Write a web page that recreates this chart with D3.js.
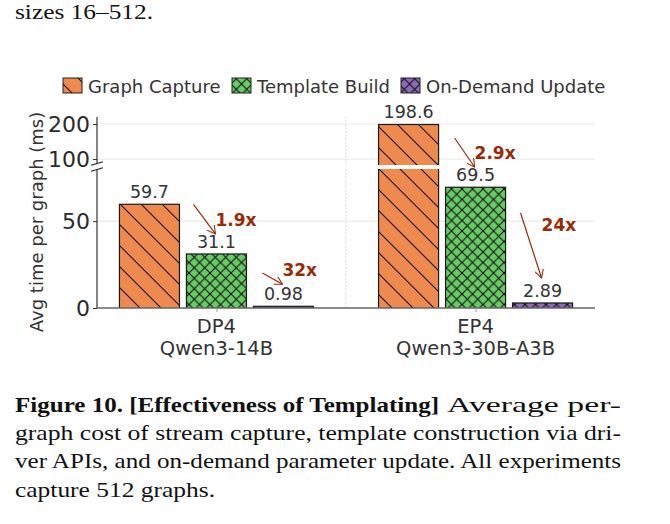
<!DOCTYPE html>
<meta charset="utf-8">
<title>Effectiveness of Templating</title>
<script src="https://cdn.jsdelivr.net/npm/d3@7"></script>
<style>
  body { margin: 0; background: #fff; }
  svg { display: block; }
</style>
<body>
<div id="my_dataviz"></div>
<script>
// data
var groups = ["DP4", "EP4"];
var models = ["Qwen3-14B", "Qwen3-30B-A3B"];
var series = ["Graph Capture", "Template Build", "On-Demand Update"];
var captureMs = [59.7, 198.6];
var buildMs = [31.1, 69.5];
var updateMs = [0.98, 2.89];
var valueLabels = [["59.7", "31.1", "0.98"], ["198.6", "69.5", "2.89"]];
var speedups = [["1.9x", "32x"], ["2.9x", "24x"]];
var lowTicks = [0, 50];
var highTicks = [100, 200];

var colors = ["#ef8a4f", "#68cb66", "#8f6ab8"];
var hatchIds = ["hatchBack", "hatchCross", "hatchCrossP"];
var annColor = "#9a2a06";

var W = 670, H = 524;
var left = 97, right = 595;

var svg = d3.select("#my_dataviz")
  .append("svg")
  .attr("width", W)
  .attr("height", H)
  .style("font-family", "'DejaVu Sans', sans-serif");

// patterns (matplotlib-ish hatches)
var defs = svg.append("defs");
function hatch(id, color, size, cross) {
  var p = defs.append("pattern")
    .attr("id", id)
    .attr("patternUnits", "userSpaceOnUse")
    .attr("width", size).attr("height", size);
  p.append("rect").attr("width", size).attr("height", size).attr("fill", color);
  var segs = [[0, 0, size, size], [-size, 0, size, 2 * size], [0, -size, 2 * size, size]];
  if (cross) segs = segs.concat([[0, size, size, 0], [-size, size, size, -size], [0, 2 * size, 2 * size, 0]]);
  segs.forEach(function(s) {
    p.append("line")
      .attr("x1", s[0]).attr("y1", s[1]).attr("x2", s[2]).attr("y2", s[3])
      .attr("stroke", "#111").attr("stroke-width", 1.1);
  });
}
hatch(hatchIds[0], colors[0], 21, false);
hatch(hatchIds[1], colors[1], 10.5, true);
hatch(hatchIds[2], colors[2], 10.5, true);

// scales
var x0 = d3.scalePoint().domain(groups).range([left, right]).padding(0.461);
var x1 = d3.scaleBand().domain(series).range([-97, 97]).paddingInner(0.104);
var yLow = d3.scaleLinear().domain([0, 80]).range([308, 169]);
var yHigh = d3.scaleLinear().domain([83, 220]).range([165, 117]);

var rows = groups.map(function(g, i) {
  return { group: g, model: models[i], vals: [captureMs[i], buildMs[i], updateMs[i]] };
});

// clip paths for the two panels
defs.append("clipPath").attr("id", "clipLow")
  .append("rect").attr("x", left).attr("y", 169).attr("width", right - left).attr("height", 139);
defs.append("clipPath").attr("id", "clipHigh")
  .append("rect").attr("x", left).attr("y", 117).attr("width", right - left).attr("height", 48);

// grid
var grid = svg.append("g");
grid.selectAll(".gl").data(lowTicks.slice(1)).enter().append("line")
  .attr("x1", left).attr("x2", right)
  .attr("y1", function(d) { return yLow(d); }).attr("y2", function(d) { return yLow(d); })
  .attr("stroke", "#ebebeb").attr("stroke-width", 1.2);
grid.selectAll(".gh").data(highTicks).enter().append("line")
  .attr("x1", left).attr("x2", right)
  .attr("y1", function(d) { return yHigh(d); }).attr("y2", function(d) { return yHigh(d); })
  .attr("stroke", "#ebebeb").attr("stroke-width", 1.2);
// dotted separator between the groups
var midX = (x0(groups[0]) + x0(groups[1])) / 2;
[[117, 165], [169, 308]].forEach(function(r) {
  grid.append("line").attr("x1", midX).attr("x2", midX).attr("y1", r[0]).attr("y2", r[1])
    .attr("stroke", "#d8d8d8").attr("stroke-width", 1).attr("stroke-dasharray", "2,1.5");
});

// bars, drawn once in each panel
function drawBars(y, clip, floor) {
  var g = svg.append("g").attr("clip-path", "url(#" + clip + ")");
  rows.forEach(function(r) {
    r.vals.forEach(function(v, k) {
      var top = y(v), bot = y(floor);
      if (top >= bot) return;
      g.append("rect")
        .attr("x", x0(r.group) + x1(series[k]))
        .attr("y", top)
        .attr("width", x1.bandwidth())
        .attr("height", bot - top + 2)
        .attr("fill", "url(#" + hatchIds[k] + ")")
        .attr("stroke", "#1a1a1a")
        .attr("stroke-width", 1.2);
    });
  });
}
drawBars(yLow, "clipLow", 0);
drawBars(yHigh, "clipHigh", 83);

// value labels
rows.forEach(function(r, i) {
  r.vals.forEach(function(v, k) {
    var y = v > 80 ? yHigh(v) : yLow(v);
    svg.append("text")
      .attr("x", x0(r.group) + x1(series[k]) + x1.bandwidth() / 2)
      .attr("y", y - 6)
      .attr("text-anchor", "middle")
      .attr("font-size", 17.5)
      .attr("fill", "#333")
      .text(valueLabels[i][k]);
  });
});

// axes
var axL = svg.append("g").attr("transform", "translate(" + left + ",0)")
  .call(d3.axisLeft(yLow).tickValues(lowTicks).tickSize(4).tickPadding(3));
var axH = svg.append("g").attr("transform", "translate(" + left + ",0)")
  .call(d3.axisLeft(yHigh).tickValues(highTicks).tickSize(4).tickPadding(3));
[axL, axH].forEach(function(a) {
  a.selectAll("text").attr("font-size", 22).attr("fill", "#2a2a2a").attr("font-family", "'DejaVu Sans', sans-serif");
  a.selectAll("line").attr("stroke", "#333");
  a.select(".domain").remove();
});
svg.append("line").attr("x1", left).attr("x2", left).attr("y1", 117).attr("y2", 164)
  .attr("stroke", "#222").attr("stroke-width", 1.1);
svg.append("line").attr("x1", left).attr("x2", left).attr("y1", 170).attr("y2", 308)
  .attr("stroke", "#222").attr("stroke-width", 1.1);
// break marks
[163.5, 169.5].forEach(function(y) {
  svg.append("line").attr("x1", left - 6).attr("x2", left + 6).attr("y1", y + 1.8).attr("y2", y - 1.8)
    .attr("stroke", "#222").attr("stroke-width", 1.1);
});

var axB = svg.append("g").attr("transform", "translate(0,308)")
  .call(d3.axisBottom(x0).tickSize(4).tickFormat(""));
axB.select(".domain").attr("stroke", "#666").attr("stroke-width", 1.3).attr("d", "M" + left + ",0H" + right);
axB.selectAll("line").attr("stroke", "#999");
rows.forEach(function(r) {
  svg.append("text").attr("x", x0(r.group)).attr("y", 333)
    .attr("text-anchor", "middle").attr("font-size", 19.5).attr("fill", "#333").text(r.group);
  svg.append("text").attr("x", x0(r.group)).attr("y", 355)
    .attr("text-anchor", "middle").attr("font-size", 19.5).attr("fill", "#333").text(r.model);
});

svg.append("text")
  .attr("transform", "translate(43,222) rotate(-90)")
  .attr("text-anchor", "middle")
  .attr("font-size", 18)
  .attr("fill", "#333")
  .text("Avg time per graph (ms)");

// legend
var legX = [63, 232, 401];
series.forEach(function(s, k) {
  svg.append("rect").attr("x", legX[k]).attr("y", 78).attr("width", 19).attr("height", 15)
    .attr("fill", "url(#" + hatchIds[k] + ")").attr("stroke", "#222").attr("stroke-width", 1);
  svg.append("text").attr("x", legX[k] + 25).attr("y", 92.5)
    .attr("font-size", 18).attr("fill", "#333").text(s);
});

// speedup arrows
defs.append("marker").attr("id", "arr")
  .attr("viewBox", "0 0 10 10").attr("refX", 9).attr("refY", 5)
  .attr("markerWidth", 9).attr("markerHeight", 9).attr("orient", "auto")
  .attr("markerUnits", "userSpaceOnUse")
  .append("path").attr("d", "M0,0L9,5L0,10").attr("fill", "none")
  .attr("stroke", annColor).attr("stroke-width", 1.2);

function arrow(fromX, fromY, toX, toY, label, tx, ty) {
  svg.append("line").attr("x1", fromX).attr("y1", fromY).attr("x2", toX).attr("y2", toY)
    .attr("stroke", annColor).attr("stroke-width", 1.2).attr("marker-end", "url(#arr)");
  svg.append("text").attr("x", tx).attr("y", ty)
    .attr("font-size", 17).attr("font-weight", "bold").attr("fill", annColor).text(label);
}
var bw = x1.bandwidth();
// DP4: capture -> build, build -> update
var gx = x0("DP4");
arrow(gx + x1(series[0]) + bw + 14, yLow(captureMs[0]), gx - 1, yLow(buildMs[0]) - 20, speedups[0][0], gx - 1, yLow(buildMs[0]) - 28);
arrow(gx + x1(series[1]) + bw + 16, yLow(buildMs[0]) + 19, gx + 66, yLow(updateMs[0]) - 22, speedups[0][1], gx + 66, yLow(updateMs[0]) - 30);
gx = x0("EP4");
arrow(gx + x1(series[0]) + bw + 16, 138, gx - 1, 167, speedups[1][0], gx - 1, 159);
arrow(gx + x1(series[1]) + bw + 15, 213, gx + 66, yLow(updateMs[1]) - 25, speedups[1][1], gx + 66, 231);

// surrounding text of the page
var serif = "'Liberation Serif', 'DejaVu Serif', serif";
function pageText(str, x, y, len, bold) {
  var t = svg.append("text").attr("x", x).attr("y", y)
    .attr("font-family", serif).attr("font-size", 22).attr("fill", "#111")
    .text(str);
  if (bold) t.attr("font-weight", "bold");
  if (len) t.attr("textLength", len).attr("lengthAdjust", "spacingAndGlyphs");
  return t;
}
pageText("sizes 16\u2013512.", 15, 19, 138, false);
pageText("Figure 10. [Effectiveness of Templating]", 15, 412, 424, true);
pageText("Average per-", 447, 412, 174, false);
pageText("graph cost of stream capture, template construction via dri-", 15, 440, 606, false);
pageText("ver APIs, and on-demand parameter update. All experiments", 15, 468, 606, false);
pageText("capture 512 graphs.", 15, 497, 200, false);
</script>
</body>
